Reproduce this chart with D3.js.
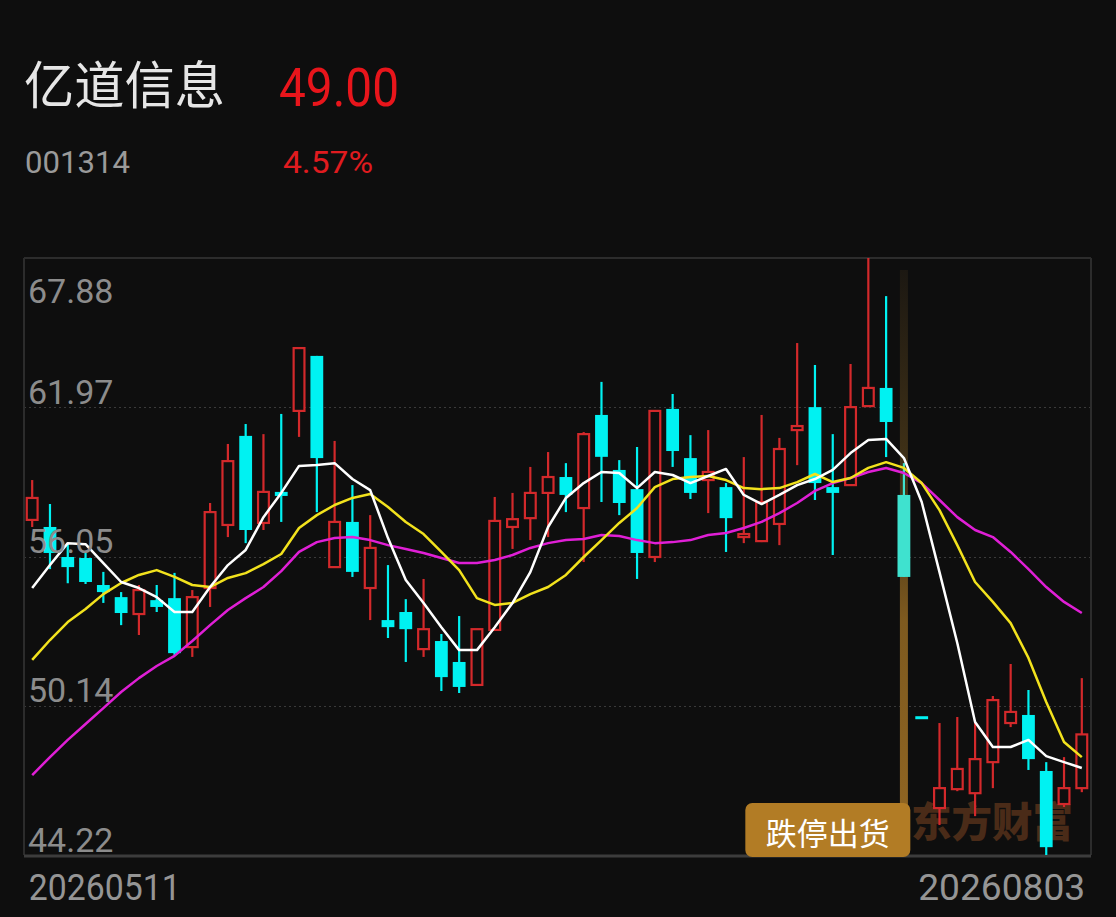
<!DOCTYPE html>
<html><head><meta charset="utf-8">
<script src="https://cdn.jsdelivr.net/npm/d3@7"></script>
<style>html,body{margin:0;padding:0;background:#0e0e0e;overflow:hidden}</style>
</head><body><svg id="c" width="1116" height="917"></svg>
<script>
const stockName = "亿道信息";
const stockCode = "001314";
const lastPrice = "49.00";
const changePct = "4.57%";
const dates = [
 "20260511","20260512","20260513","20260514","20260515","20260518","20260519","20260520","20260521","20260522",
 "20260525","20260526","20260527","20260528","20260529","20260601","20260602","20260603","20260604","20260605",
 "20260608","20260609","20260610","20260611","20260612","20260615","20260616","20260617","20260618","20260622",
 "20260623","20260624","20260625","20260626","20260629","20260630","20260701","20260702","20260703","20260706",
 "20260707","20260708","20260709","20260710","20260713","20260714","20260715","20260716","20260717","20260720",
 "20260721","20260722","20260723","20260724","20260727","20260728","20260729","20260730","20260731","20260803"];
const opens = [57.50,57.22,56.03,55.99,54.92,54.44,53.77,54.32,54.40,52.46,
 54.80,57.30,60.83,57.38,58.61,61.82,64.00,55.63,57.42,54.80,
 53.53,53.85,52.38,52.70,51.87,50.96,53.14,57.22,57.57,58.57,
 59.20,57.97,61.66,59.48,58.72,56.03,61.90,59.95,59.08,58.80,
 56.82,56.66,57.34,61.06,61.97,58.80,58.88,62.01,62.73,58.49,
 49.72,46.08,46.83,46.67,47.90,49.45,49.77,47.55,46.24,46.87];
const highs = [59.08,58.13,56.58,56.19,55.44,54.64,54.92,54.92,55.40,54.72,
 58.17,60.51,61.30,60.90,61.70,64.31,64.00,60.63,58.88,57.69,
 55.71,54.36,55.16,52.98,53.69,53.17,58.41,58.57,59.60,60.19,
 59.75,60.98,62.97,59.87,60.39,61.82,62.49,60.86,61.06,58.96,
 59.99,61.66,60.75,64.51,63.64,60.90,63.68,67.88,66.37,59.75,
 49.72,49.45,49.69,49.45,50.52,51.79,50.76,47.90,48.10,51.23];
const lows = [57.22,55.55,54.99,54.96,54.21,53.33,52.94,53.85,52.15,52.07,
 54.05,56.82,56.58,57.10,57.42,60.79,57.81,55.63,55.24,53.53,
 52.82,51.87,52.07,50.72,50.64,50.96,53.14,56.35,56.70,56.82,
 57.81,55.83,58.21,57.69,55.16,55.83,59.60,58.33,57.77,56.23,
 56.58,56.62,56.50,59.67,58.29,56.11,58.88,62.01,59.99,55.24,
 49.72,45.41,46.75,45.76,46.87,49.29,47.59,44.22,46.12,46.71];
const closes = [58.37,56.19,55.63,55.04,54.64,53.81,54.72,54.05,52.22,54.44,
 57.81,59.83,57.10,58.61,58.45,64.31,59.95,57.42,55.44,56.39,
 53.25,53.17,53.17,51.27,50.88,53.17,57.46,57.53,58.57,59.20,
 58.49,60.90,60.00,58.17,56.19,61.82,60.23,58.57,59.40,57.57,
 56.94,58.21,60.31,61.22,58.96,58.57,61.97,62.73,61.38,55.24,
 49.72,46.87,47.63,48.02,50.36,49.89,48.02,44.53,46.87,49.00];
const ma5 = [54.80,55.71,56.58,56.54,55.79,55.04,54.80,54.44,53.85,53.85,
 54.84,55.71,56.31,57.61,58.57,59.64,59.68,59.75,59.12,58.68,
 56.78,55.12,54.21,53.25,52.34,52.34,53.25,54.21,55.43,57.22,
 58.37,58.96,59.40,59.36,58.76,59.40,59.28,58.96,59.24,59.52,
 58.49,58.13,58.49,58.88,59.12,59.48,60.15,60.67,60.71,59.95,
 58.21,55.43,52.62,49.49,48.50,48.50,48.78,48.14,47.90,47.67];
const ma10 = [51.95,52.74,53.45,53.97,54.56,55.00,55.32,55.51,55.24,54.92,
 54.84,55.20,55.39,55.75,56.15,57.18,57.69,58.09,58.37,58.53,
 58.01,57.42,56.94,56.23,55.51,54.40,54.13,54.21,54.56,54.84,
 55.32,56.03,56.70,57.38,57.97,58.80,59.12,59.20,59.24,59.08,
 58.76,58.72,58.76,59.00,59.32,59.00,59.16,59.56,59.79,59.56,
 58.96,57.89,56.50,55.04,54.25,53.41,52.03,50.28,48.70,48.10];
const ma20 = [47.39,48.10,48.78,49.41,50.04,50.68,51.23,51.71,52.11,52.70,
 53.33,53.93,54.40,54.84,55.47,56.23,56.62,56.78,56.82,56.70,
 56.50,56.35,56.19,55.99,55.79,55.79,55.91,56.11,56.39,56.58,
 56.70,56.74,56.90,56.86,56.70,56.58,56.62,56.70,56.90,56.98,
 57.18,57.42,57.77,58.17,58.65,58.96,59.16,59.40,59.56,59.36,
 58.96,58.29,57.61,57.10,56.82,56.23,55.55,54.84,54.25,53.81];
const yTickValues = [67.88, 61.97, 56.05, 50.14, 44.22];
const xTickLabels = ["20260511", "20260803"];
const signalIndex = 49;
const signalText = "跌停出货";
const watermarkText = "东方财富";

const L = 24, R = 1090, T = 258, B = 855;
const RED = "#d3292b", CYAN = "#00f2f2", BG = "#0e0e0e";
const svg = d3.select("#c");
svg.append("rect").attr("width", 1116).attr("height", 917).attr("fill", BG);

const x = d3.scaleBand().domain(dates).range([L, R]).paddingInner(0.28).paddingOuter(0.1);
const y = d3.scaleLinear().domain([44.22, 67.88]).range([B, T]);
const bw = x.bandwidth();
const cx = d => x(d) + bw / 2;

// header
const hdr = svg.append("g");
hdr.append("text").attr("x", 24).attr("y", 104).text(stockName)
  .attr("font-family", "'Noto Sans CJK SC'").attr("font-size", 51).attr("fill", "#e6e6e6")
  .attr("textLength", 201).attr("lengthAdjust", "spacingAndGlyphs");
hdr.append("text").attr("x", 279).attr("y", 106).text(lastPrice)
  .attr("font-family", "Roboto").attr("font-size", 53).attr("fill", "#e8151b")
  .attr("textLength", 120).attr("lengthAdjust", "spacingAndGlyphs");
hdr.append("text").attr("x", 25).attr("y", 173).text(stockCode)
  .attr("font-family", "Roboto").attr("font-size", 31).attr("fill", "#9a9a9a")
  .attr("textLength", 105).attr("lengthAdjust", "spacingAndGlyphs");
hdr.append("text").attr("x", 283).attr("y", 173).text(changePct)
  .attr("font-family", "Roboto").attr("font-size", 31).attr("fill", "#e01b1f")
  .attr("textLength", 90).attr("lengthAdjust", "spacingAndGlyphs");

// grid
const mid = yTickValues.filter(v => v !== d3.max(yTickValues) && v !== d3.min(yTickValues));
svg.append("g").selectAll("line").data(mid).join("line")
  .attr("x1", L).attr("x2", R).attr("y1", d => Math.round(y(d)) + 0.5).attr("y2", d => Math.round(y(d)) + 0.5)
  .attr("stroke", "#3a3a3a").attr("stroke-width", 1).attr("stroke-dasharray", "2,3");

// frame
svg.append("line").attr("x1", L).attr("x2", R + 1).attr("y1", T).attr("y2", T).attr("stroke", "#2c2c2c").attr("stroke-width", 2);
svg.append("line").attr("x1", L).attr("x2", L).attr("y1", T).attr("y2", B).attr("stroke", "#2c2c2c").attr("stroke-width", 2);
svg.append("line").attr("x1", R + 1).attr("x2", R + 1).attr("y1", T).attr("y2", B).attr("stroke", "#2c2c2c").attr("stroke-width", 2);
svg.append("line").attr("x1", L).attr("x2", R + 1).attr("y1", B + 1).attr("y2", B + 1).attr("stroke", "#3c3c3c").attr("stroke-width", 3);

// watermark
svg.append("text").attr("x", 911).attr("y", 837).text(watermarkText)
  .attr("font-family", "'Noto Sans CJK SC'").attr("font-weight", 900).attr("font-size", 41)
  .attr("fill", "#4a2b18").attr("textLength", 162).attr("lengthAdjust", "spacingAndGlyphs");

// highlight bar behind signal candle
const defs = svg.append("defs");
const grad = defs.append("linearGradient").attr("id", "hl").attr("x1", 0).attr("x2", 0).attr("y1", 0).attr("y2", 1);
grad.append("stop").attr("offset", "0%").attr("stop-color", "#1c1812");
grad.append("stop").attr("offset", "45%").attr("stop-color", "#4a3818");
grad.append("stop").attr("offset", "65%").attr("stop-color", "#7e5a1f");
grad.append("stop").attr("offset", "100%").attr("stop-color", "#8e6422");
const sd = dates[signalIndex];
svg.append("rect").attr("x", cx(sd) - 4).attr("width", 8).attr("y", 270).attr("height", 540).attr("fill", "url(#hl)");

// candles
const data = dates.map((d, i) => ({d, i, o: opens[i], h: highs[i], l: lows[i], c: closes[i]}));
const isUp = p => p.c > p.o || (p.c === p.o && p.i > 0 && p.c >= closes[p.i - 1]);
const cg = svg.append("g");
data.forEach(p => {
  const up = isUp(p);
  const col = p.i === signalIndex ? "#3fe2cf" : (up ? RED : CYAN);
  const top = y(Math.max(p.o, p.c)), bot = y(Math.min(p.o, p.c));
  const g = cg.append("g");
  if (up) {
    if (y(p.h) < top - 0.5) g.append("line").attr("x1", cx(p.d)).attr("x2", cx(p.d)).attr("y1", y(p.h)).attr("y2", top).attr("stroke", col).attr("stroke-width", 2.2);
    if (y(p.l) > bot + 0.5) g.append("line").attr("x1", cx(p.d)).attr("x2", cx(p.d)).attr("y1", bot).attr("y2", y(p.l)).attr("stroke", col).attr("stroke-width", 2.2);
    g.append("rect").attr("x", x(p.d) + 1).attr("width", bw - 2).attr("y", top).attr("height", Math.max(bot - top, 1.5))
      .attr("fill", BG).attr("stroke", col).attr("stroke-width", 2.2);
  } else {
    g.append("line").attr("x1", cx(p.d)).attr("x2", cx(p.d)).attr("y1", y(p.h)).attr("y2", y(p.l)).attr("stroke", col).attr("stroke-width", 2.2);
    g.append("rect").attr("x", x(p.d)).attr("width", bw).attr("y", top).attr("height", Math.max(bot - top, 3)).attr("fill", col);
  }
});

// moving averages
const line = d3.line().x((v, i) => cx(dates[i])).y(v => y(v));
[[ma20, "#e01fd6"], [ma10, "#f2e21d"], [ma5, "#ffffff"]].forEach(([arr, col]) => {
  svg.append("path").attr("d", line(arr)).attr("fill", "none").attr("stroke", col).attr("stroke-width", 2.5).attr("stroke-linejoin", "round");
});

// y axis labels
const yAxis = svg.append("g").attr("transform", `translate(${L + 4},0)`)
  .call(d3.axisRight(y).tickValues(yTickValues).tickSize(0).tickFormat(d3.format(".2f")));
yAxis.select(".domain").remove();
yAxis.selectAll("text").attr("x", 0).attr("dy", null).attr("y", 0)
  .attr("transform", d => d === d3.max(yTickValues) ? "translate(0,44)" : "translate(0,-4)")
  .attr("font-family", "Roboto").attr("font-size", 34).attr("fill", "#8c8c8c").attr("text-anchor", "start");

// x axis labels
const xAxis = svg.append("g").attr("transform", `translate(0,${B})`)
  .call(d3.axisBottom(x).tickValues([dates[0], dates[dates.length - 1]]).tickSize(0).tickFormat((d, i) => xTickLabels[i]));
xAxis.select(".domain").remove();
xAxis.selectAll("text").attr("y", 45).attr("dy", null)
  .attr("font-family", "Roboto").attr("font-size", 36).attr("fill", "#959595")
  .attr("textLength", (d, i) => i === 0 ? 152 : 167).attr("lengthAdjust", "spacingAndGlyphs")
  .attr("text-anchor", (d, i) => i === 0 ? "start" : "end")
  .attr("x", (d, i) => i === 0 ? -x.bandwidth() / 2 + 3 : x.bandwidth() / 2 - 3);

// signal label
const lr = x(sd) + bw;
const lg = svg.append("g");
lg.append("rect").attr("x", lr - 165).attr("y", 803).attr("width", 165).attr("height", 54).attr("rx", 7).attr("fill", "#b27c25");
lg.append("text").attr("x", lr - 82.5).attr("y", 845).attr("text-anchor", "middle").text(signalText)
  .attr("font-family", "'Noto Sans CJK SC'").attr("font-size", 31).attr("fill", "#ffffff");
</script></body></html>
